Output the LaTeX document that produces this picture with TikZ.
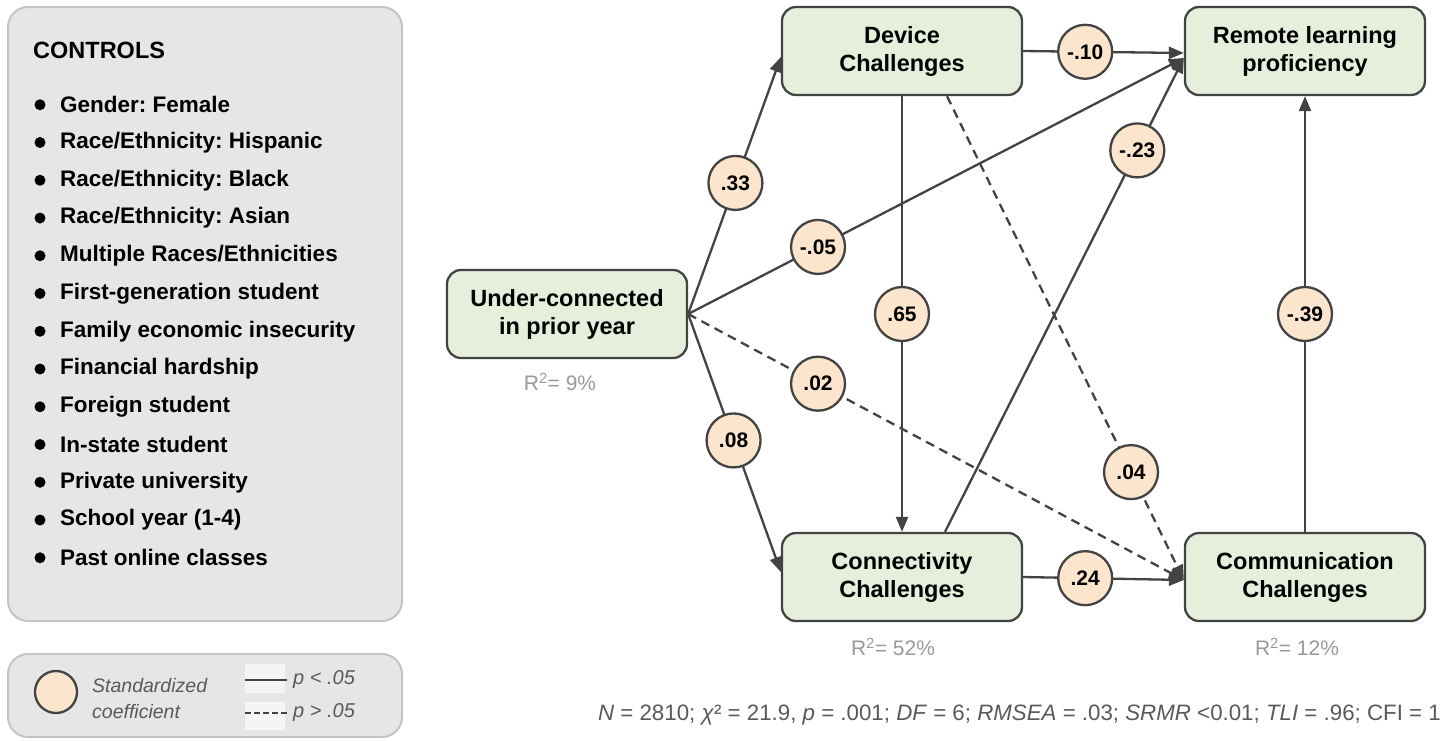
\documentclass[tikz,border=0pt]{standalone}
\usepackage{fontspec}
\setmainfont{Liberation Sans}
\usepackage{tikz}
\usetikzlibrary{arrows.meta}
\usepackage{xcolor}
\frenchspacing

\definecolor{boxgreen}{HTML}{E5EFDC}
\definecolor{coeffill}{HTML}{FCE5CD}
\definecolor{edgegray}{HTML}{434343}
\definecolor{panelgray}{HTML}{E6E6E6}
\definecolor{panelline}{HTML}{C4C4C4}
\definecolor{notegray}{HTML}{999999}
\definecolor{fitgray}{HTML}{595959}

\begin{document}
\begin{tikzpicture}[x=1pt, y=-1pt,
    varbox/.style={draw=edgegray, fill=boxgreen, line width=2.3pt, rounded corners=14pt,
        minimum width=240pt, minimum height=88pt, align=center, inner sep=0pt,
        font=\fontsize{23.5}{28}\selectfont\bfseries},
    coef/.style={circle, solid, draw=edgegray, fill=coeffill, line width=2.3pt, minimum size=54pt,
        inner sep=0pt, font=\fontsize{21}{21}\selectfont\bfseries},
    path/.style={draw=edgegray, line width=2.3pt, -{Triangle[length=15pt,width=12pt]}},
    ns/.style={path, dash pattern=on 9pt off 6pt},
    rsq/.style={text=notegray, font=\fontsize{21}{21}\selectfont},
    panel/.style={draw=panelline, fill=panelgray, line width=2pt, rounded corners=20pt}
]
        \useasboundingbox (0,0) rectangle (1448,740);

        % Panels on the left
        \draw[panel] (8,7) rectangle (402,621);
        \draw[panel] (8,654) rectangle (402,737);

        % Controls list
        \node[anchor=west, inner sep=0pt, font=\fontsize{23.5}{23.5}\selectfont\bfseries] (ctltitle) at (33,50) {CONTROLS};
        \foreach \txt [count=\i] in {
            Gender: Female,
            Race/Ethnicity: Hispanic,
            Race/Ethnicity: Black,
            Race/Ethnicity: Asian,
            Multiple Races/Ethnicities,
            First-generation student,
            Family economic insecurity,
            Financial hardship,
            Foreign student,
            In-state student,
            Private university,
            School year (1-4),
            Past online classes
        } {
            \fill (40,{67+37.75*\i}) circle (5.5);
            \node[anchor=west, inner sep=0pt, font=\fontsize{22.5}{22.5}\selectfont\bfseries] (ctl\i) at (60,{67+37.75*\i}) {\txt};
        }

        % Legend
        \node[coef, minimum size=42pt] (legcoef) at (56,692) {};
        \node[anchor=west, inner sep=0pt, align=left, text=fitgray, font=\fontsize{19.5}{26}\selectfont\itshape] (legtxt) at (92,699) {Standardized\\coefficient};
        \fill[white!60!panelgray] (245,664) rectangle (285,693);
        \fill[white!60!panelgray] (245,702) rectangle (285,730);
        \coordinate (solidA) at (245,680);
        \coordinate (solidB) at (287,680);
        \coordinate (dashA) at (245,713);
        \coordinate (dashB) at (287,713);
        \draw[edgegray, line width=2.3pt] (solidA) -- (solidB);
        \draw[edgegray, line width=2.3pt, dash pattern=on 6pt off 3pt] (dashA) -- (dashB);
        \node[anchor=west, inner sep=0pt, text=fitgray, font=\fontsize{20}{20}\selectfont\itshape] (legsig) at (293,680) {p < .05};
        \node[anchor=west, inner sep=0pt, text=fitgray, font=\fontsize{20}{20}\selectfont\itshape] (legns) at (293,713) {p > .05};

        % Variables
        \node[varbox] (UC) at (567,314) {Under-connected\\in prior year};
        \node[varbox] (Device) at (902,51) {Device\\Challenges};
        \node[varbox] (RLP) at (1305,51) {Remote learning\\proficiency};
        \node[varbox] (Conn) at (902,577) {Connectivity\\Challenges};
        \node[varbox] (Comm) at (1305,577) {Communication\\Challenges};

        % R-squared notes
        \node[rsq] (rUC) at (560,382) {R\textsuperscript{2}= 9\%};
        \node[rsq] (rConn) at (893,647) {R\textsuperscript{2}= 52\%};
        \node[rsq] (rComm) at (1297,647) {R\textsuperscript{2}= 12\%};

        % Arrival points
        \coordinate (rlpIn) at ([yshift=-7pt]RLP.west);
        \coordinate (commIn) at ([yshift=-3pt]Comm.west);

        % Paths with standardized coefficients
        \draw[path] (UC.east) -- node[coef, pos=0.51] {.33} ([yshift=-6pt]Device.west);
        \draw[path] (UC.east) -- node[coef, pos=0.49] {.08} ([yshift=5pt]Conn.west);
        \draw[path] (UC.east) -- node[coef, pos=0.262] {-.05} (rlpIn);
        \draw[ns] (UC.east) -- node[coef, pos=0.262] {.02} (commIn);
        \draw[path] (Device.east) -- node[coef, pos=0.386] {-.10} ([yshift=-2pt]RLP.west);
        \draw[path] (Device.south) -- node[coef, pos=0.5] {.65} (Conn.north);
        \draw[ns] ([xshift=45pt]Device.south) -- node[coef, pos=0.777] {.04} (commIn);
        \draw[path] ([xshift=43pt]Conn.north) -- node[coef, pos=0.805] {-.23} (rlpIn);
        \draw[path] (Conn.east) -- node[coef, pos=0.386] {.24} (commIn);
        \draw[path] (Comm.north) -- node[coef, pos=0.5] {-.39} (RLP.south);

        % Fit statistics
        \node[anchor=east, inner sep=0pt, text=fitgray, font=\fontsize{22.3}{22.3}\selectfont] (fit) at (1441,715)
            {\textit{N} = 2810; \textit{χ}² = 21.9, \textit{p} = .001; \textit{DF} = 6; \textit{RMSEA} = .03; \textit{SRMR} <0.01; \textit{TLI} = .96; CFI = 1};
    \end{tikzpicture}
\end{document}
